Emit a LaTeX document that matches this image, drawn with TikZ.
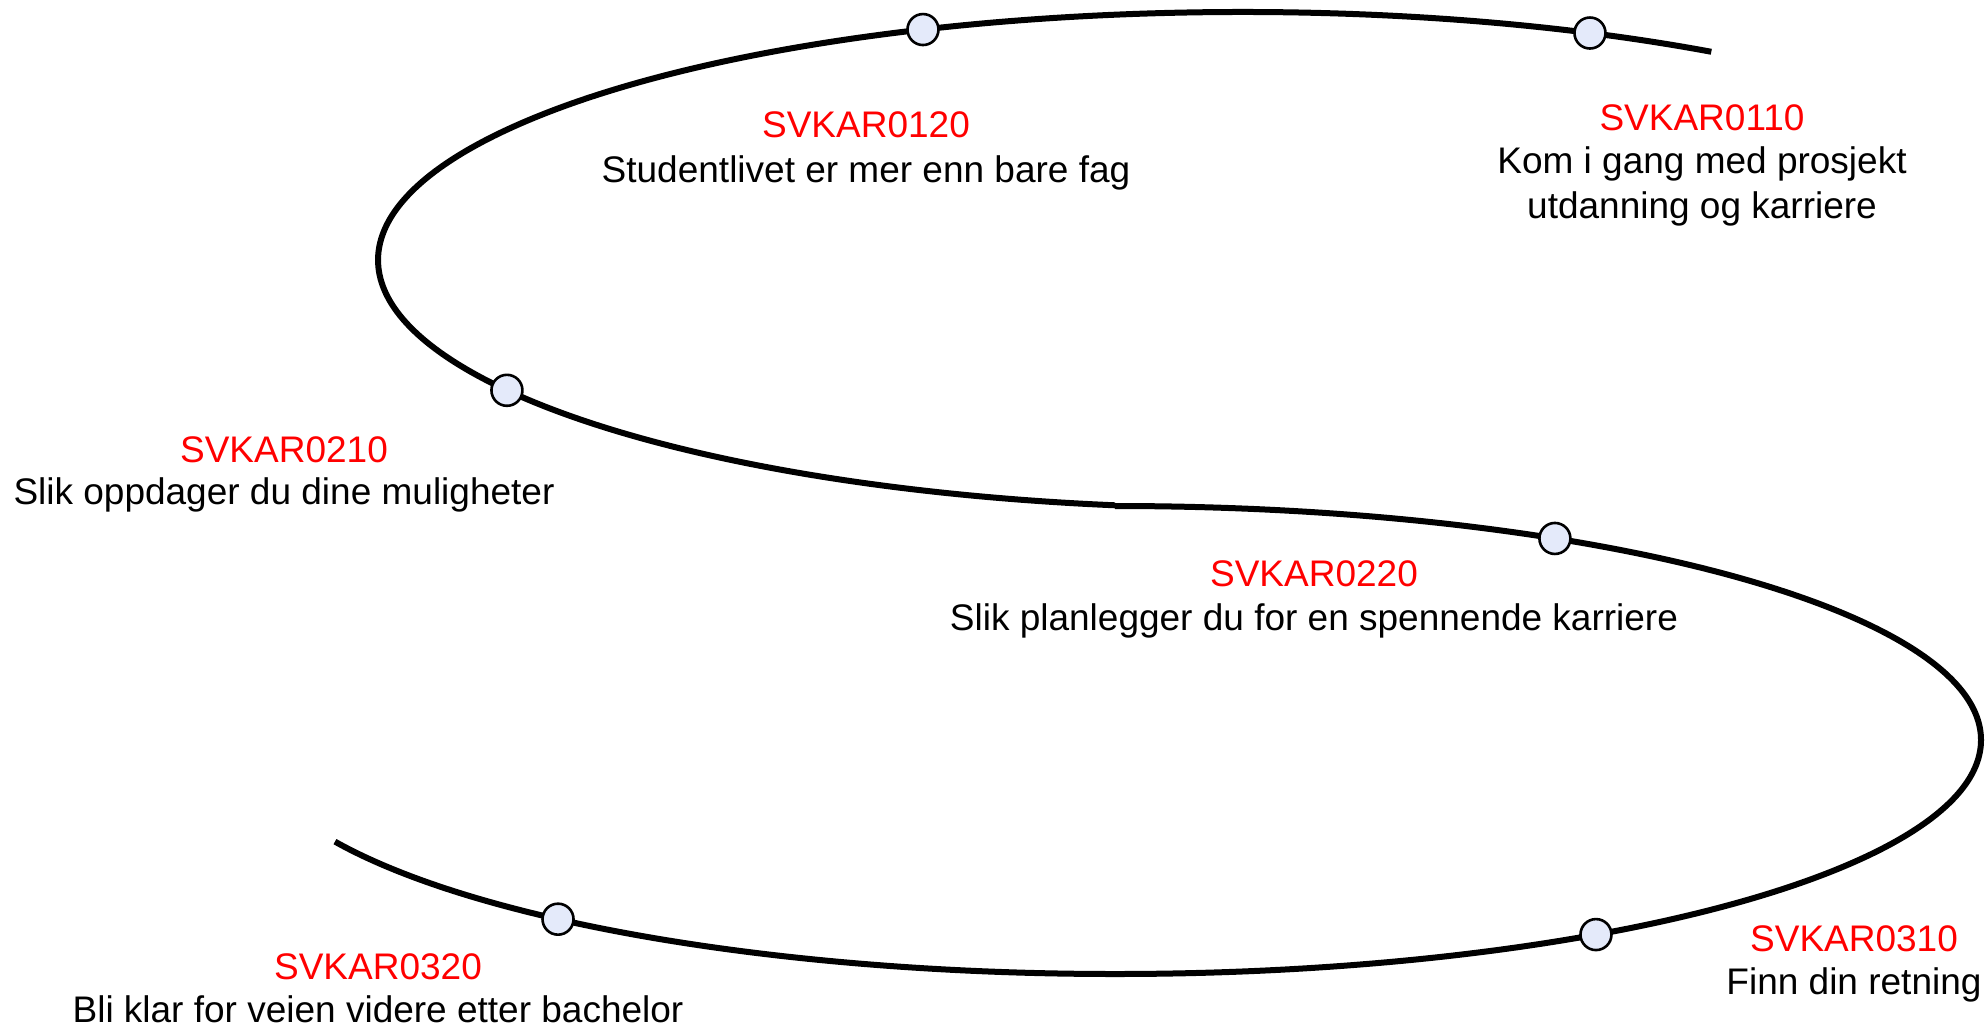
\documentclass[tikz,border=0pt]{standalone}
\usepackage{fontspec}
\setmainfont{Liberation Sans}
\usetikzlibrary{calc}
\definecolor{dotfill}{RGB}{228,234,250}
\definecolor{codered}{RGB}{255,0,0}
\begin{document}
\begin{tikzpicture}[x=0.5pt,y=-0.5pt,
  track/.style={line width=3pt, draw=black},
  dot/.style={circle, draw=black, line width=1.3pt, fill=dotfill, inner sep=0pt, minimum size=15.5pt},
  code/.style={anchor=base, text=codered, font=\fontsize{18.5}{22}\selectfont, inner sep=0pt},
  desc/.style={anchor=base, text=black, font=\fontsize{18.5}{22}\selectfont, inner sep=0pt}]
\useasboundingbox (0,0) rectangle (1987,1029);
\coordinate (uc) at (1242,260);
\coordinate (lc) at (1115,740);
\coordinate (ustart) at ($(uc)+(-57.1:864 and 248)$);
\coordinate (lstart) at ($(lc)+(-90:866 and 234)$);
\draw[track] (ustart) arc[start angle=-57.1, end angle=-261.55, x radius=864, y radius=248];
\draw[track] (lstart) arc[start angle=-90, end angle=154.26, x radius=866, y radius=234];
\node[dot] (d0110) at ($(uc)+(-66.25:864 and 248)$) {};
\node[dot] (d0120) at ($(uc)+(-111.67:864 and 248)$) {};
\node[dot] (d0210) at ($(uc)+(148.3:864 and 248)$) {};
\node[dot] (d0220) at ($(lc)+(-59.47:866 and 234)$) {};
\node[dot] (d0310) at ($(lc)+(56.26:866 and 234)$) {};
\node[dot] (d0320) at ($(lc)+(130.03:866 and 234)$) {};
\node[code] (c0110) at (1702,130) {SVKAR0110};
\node[desc] (t0110a) at (1702,173) {Kom i gang med prosjekt};
\node[desc] (t0110b) at (1702,218) {utdanning og karriere};
\node[code] (c0120) at (866,137) {SVKAR0120};
\node[desc] (t0120) at (866,182) {Studentlivet er mer enn bare fag};
\node[code] (c0210) at (284,462) {SVKAR0210};
\node[desc] (t0210) at (284,504) {Slik oppdager du dine muligheter};
\node[code] (c0220) at (1314,586) {SVKAR0220};
\node[desc] (t0220) at (1314,630) {Slik planlegger du for en spennende karriere};
\node[code] (c0310) at (1854,951) {SVKAR0310};
\node[desc] (t0310) at (1854,994) {Finn din retning};
\node[code] (c0320) at (378,979) {SVKAR0320};
\node[desc] (t0320) at (378,1022) {Bli klar for veien videre etter bachelor};
\end{tikzpicture}
\end{document}
